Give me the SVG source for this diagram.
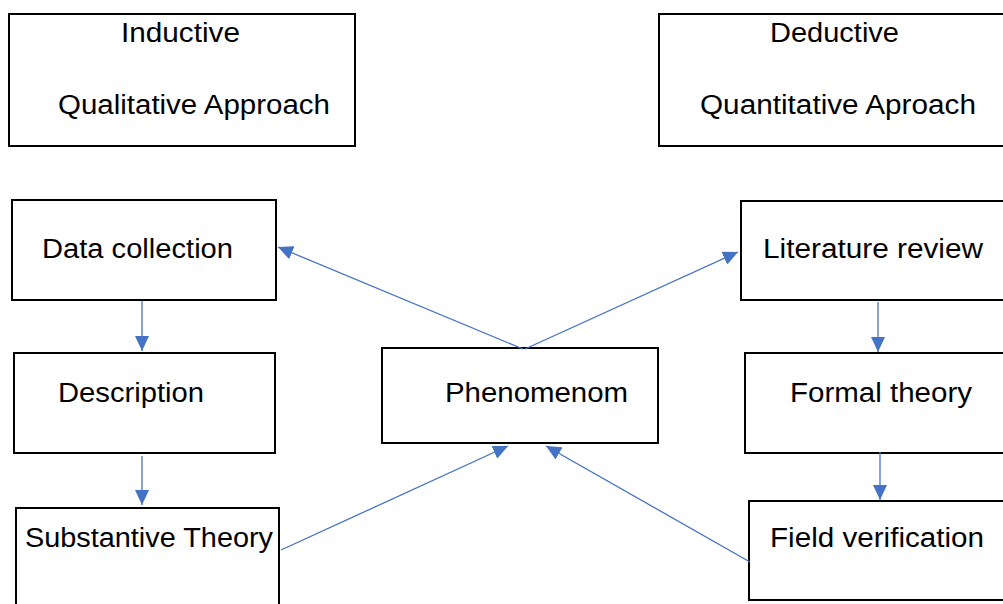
<svg xmlns="http://www.w3.org/2000/svg" width="1003" height="604" viewBox="0 0 1003 604">
<style>
.box{fill:#fff;stroke:#000;stroke-width:2}
.t{font-family:"Liberation Sans",Arial,sans-serif;font-size:27px;fill:#000}
.c{stroke:#4472C4;stroke-width:1.3;fill:none;marker-end:url(#ah)}
</style>
<defs>
<marker id="ah" markerUnits="userSpaceOnUse" markerWidth="16" markerHeight="14" refX="15" refY="7" orient="auto">
<path d="M0,0 L15,7 L0,14 Z" fill="#4472C4"/>
</marker>
</defs>
<rect width="1003" height="604" fill="#fff"/>
<g id="n-inductive"><rect class="box" x="9" y="14" width="346" height="132"/>
<text class="t" x="121" y="42" textLength="119" lengthAdjust="spacingAndGlyphs">Inductive</text>
<text class="t" x="58" y="114" textLength="272" lengthAdjust="spacingAndGlyphs">Qualitative Approach</text></g>
<g id="n-deductive"><rect class="box" x="659" y="14" width="350" height="132"/>
<text class="t" x="770" y="42" textLength="129" lengthAdjust="spacingAndGlyphs">Deductive</text>
<text class="t" x="700" y="114" textLength="276" lengthAdjust="spacingAndGlyphs">Quantitative Aproach</text></g>
<g id="n-data"><rect class="box" x="12" y="200" width="264" height="100"/>
<text class="t" x="42" y="258" textLength="191" lengthAdjust="spacingAndGlyphs">Data collection</text></g>
<g id="n-desc"><rect class="box" x="14" y="353" width="261" height="100"/>
<text class="t" x="58" y="402" textLength="146" lengthAdjust="spacingAndGlyphs">Description</text></g>
<g id="n-subst"><rect class="box" x="16" y="508" width="263" height="110"/>
<text class="t" x="25" y="547" textLength="248" lengthAdjust="spacingAndGlyphs">Substantive Theory</text></g>
<g id="n-phen"><rect class="box" x="382" y="348" width="276" height="95"/>
<text class="t" x="445" y="402" textLength="183" lengthAdjust="spacingAndGlyphs">Phenomenom</text></g>
<g id="n-lit"><rect class="box" x="741" y="201" width="270" height="99"/>
<text class="t" x="763" y="258" textLength="220" lengthAdjust="spacingAndGlyphs">Literature review</text></g>
<g id="n-formal"><rect class="box" x="745" y="353" width="266" height="100"/>
<text class="t" x="790" y="402" textLength="182" lengthAdjust="spacingAndGlyphs">Formal theory</text></g>
<g id="n-field"><rect class="box" x="749" y="501" width="262" height="99"/>
<text class="t" x="770" y="547" textLength="214" lengthAdjust="spacingAndGlyphs">Field verification</text></g>
<g id="connectors">
<line class="c" x1="523" y1="349" x2="278" y2="247"/>
<line class="c" x1="525" y1="349" x2="738" y2="252"/>
<line class="c" x1="142" y1="301" x2="142" y2="351"/>
<line class="c" x1="142" y1="456" x2="142" y2="505"/>
<line class="c" x1="878" y1="302" x2="878" y2="352"/>
<line class="c" x1="880" y1="452" x2="880" y2="500"/>
<line class="c" x1="281" y1="550" x2="508" y2="446"/>
<line class="c" x1="750" y1="562" x2="546" y2="446"/>
</g>
</svg>
